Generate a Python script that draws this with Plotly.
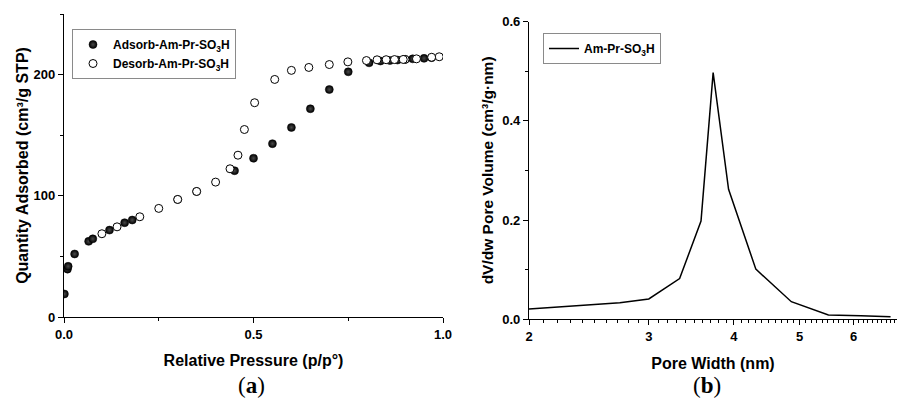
import math
import plotly.graph_objects as go

# (a) N2 sorption isotherm: relative pressure vs quantity adsorbed
ads_p = [0.001, 0.009, 0.011, 0.028, 0.065, 0.076, 0.12, 0.16, 0.18, 0.30, 0.35,
         0.45, 0.50, 0.55, 0.60, 0.65, 0.70, 0.75, 0.805, 0.835, 0.86, 0.88,
         0.90, 0.92, 0.95, 0.97]
ads_q = [19, 39.5, 41.8, 52, 62.4, 64.5, 71.7, 77.8, 80, 97, 103.5,
         120.7, 131, 143, 156.4, 171.8, 187.7, 202.3, 209.7, 211.2, 211.6, 212.0,
         212.5, 213.0, 213.4, 214.0]

des_p = [0.99, 0.97, 0.93, 0.90, 0.895, 0.872, 0.85, 0.826, 0.798, 0.749, 0.70,
         0.646, 0.60, 0.556, 0.503, 0.476, 0.459, 0.438, 0.40, 0.35, 0.30,
         0.25, 0.20, 0.14, 0.10]
des_q = [214.7, 214.3, 213.0, 212.6, 212.5, 212.4, 212.3, 212.2, 211.6, 210.5, 208.3,
         205.9, 203.5, 196.0, 176.8, 154.7, 133.5, 122.3, 111.3, 103.6, 97.0,
         89.6, 82.7, 74.4, 68.7]

# (b) pore size distribution
pore_w = [2.0, 2.72, 3.0, 3.33, 3.58, 3.73, 3.93, 4.31, 4.86, 5.51, 6.15, 6.8]
pore_dv = [0.021, 0.0335, 0.041, 0.082, 0.198, 0.497, 0.262, 0.101, 0.0355, 0.0087, 0.007, 0.005]

# axis tick labels
iso_x_ticks = [0.0, 0.5, 1.0]
iso_y_ticks = [0, 100, 200]
psd_x_ticks = [2, 3, 4, 5, 6]
psd_y_ticks = [0.0, 0.2, 0.4, 0.6]

W, H = 897, 407
SANS = "Liberation Sans, Arial, sans-serif"
SERIF = "Liberation Serif, Times New Roman, serif"


def px(x):
    return x / W


def py(y):
    return 1 - y / H


fig = go.Figure()

fig.add_trace(go.Scatter(
    x=ads_p, y=ads_q, mode="markers", name="Adsorb-Am-Pr-SO<sub>3</sub>H",
    marker=dict(symbol="circle", size=8, color="black",
                line=dict(color="black", width=0.5),
                gradient=dict(type="radial", color="#4a4a4a")),
    xaxis="x", yaxis="y", legend="legend",
))
fig.add_trace(go.Scatter(
    x=des_p, y=des_q, mode="markers", name="Desorb-Am-Pr-SO<sub>3</sub>H",
    marker=dict(symbol="circle", size=8, color="white",
                line=dict(color="black", width=1)),
    xaxis="x", yaxis="y", legend="legend",
))
fig.add_trace(go.Scatter(
    x=pore_w, y=pore_dv, mode="lines", name="Am-Pr-SO<sub>3</sub>H",
    line=dict(color="black", width=1.5),
    xaxis="x2", yaxis="y2", legend="legend2",
))

axis_common = dict(
    showline=True, linecolor="black", linewidth=1.3, mirror=False,
    ticks="outside", ticklen=5, tickwidth=1.2, tickcolor="black",
    showgrid=False, zeroline=False, automargin=False,
    tickfont=dict(family=SANS, size=13, color="black", weight="bold"),
)
title_font = dict(family=SANS, size=16, color="black", weight="bold")

# log-axis minor ticks every 0.1 nm
psd_minor = [round(2 + 0.1 * i, 1) for i in range(1, 50)]
psd_minor = [v for v in psd_minor if abs(v - round(v)) > 1e-6]

fig.update_layout(
    width=W, height=H,
    margin=dict(l=0, r=0, t=0, b=0, autoexpand=False),
    paper_bgcolor="white", plot_bgcolor="white",
    xaxis=dict(
        **axis_common, domain=[px(64), px(443)], range=[0, 1.0],
        tickvals=iso_x_ticks, ticktext=[f"{v:.1f}" for v in iso_x_ticks],
        minor=dict(tickvals=[0.25, 0.75], ticks="outside", ticklen=3, tickcolor="black"),
        title=dict(text="Relative Pressure (p/p°)", font=title_font, standoff=14),
        anchor="y",
    ),
    yaxis=dict(
        **axis_common, domain=[py(317), py(14)], range=[0, 250],
        tickvals=iso_y_ticks, ticktext=[str(v) for v in iso_y_ticks],
        minor=dict(tickvals=[50, 150, 250], ticks="outside", ticklen=3, tickcolor="black"),
        title=dict(text="Quantity Adsorbed (cm³/g STP)", font=title_font, standoff=0),
        anchor="x",
    ),
    xaxis2=dict(
        **axis_common, type="log", domain=[px(529), 1.0],
        range=[math.log10(2), math.log10(6.95)],
        tickvals=psd_x_ticks, ticktext=[str(v) for v in psd_x_ticks],
        minor=dict(tickmode="array", tickvals=psd_minor, ticks="outside",
                   ticklen=3, tickcolor="black"),
        title=dict(text="Pore Width (nm)", font=title_font, standoff=14),
        anchor="y2",
    ),
    yaxis2=dict(
        **axis_common, domain=[py(319.3), py(21.5)], range=[0, 0.6],
        tickvals=psd_y_ticks, ticktext=[f"{v:.1f}" for v in psd_y_ticks],
        minor=dict(tickvals=[0.1, 0.3, 0.5], ticks="outside", ticklen=3, tickcolor="black"),
        title=dict(text="dV/dw Pore Volume (cm³/g·nm)",
                   font=dict(family=SANS, size=15.5, color="black", weight="bold"),
                   standoff=4),
        anchor="x2",
    ),
    legend=dict(
        x=px(72), y=py(29), xanchor="left", yanchor="top",
        bgcolor="white", bordercolor="#8a8a8a", borderwidth=1,
        font=dict(family=SANS, size=12, color="black", weight="bold"),
        itemwidth=30, tracegroupgap=0,
    ),
    legend2=dict(
        x=px(543), y=py(33), xanchor="left", yanchor="top",
        bgcolor="white", bordercolor="#8a8a8a", borderwidth=1,
        font=dict(family=SANS, size=12, color="black", weight="bold"),
        itemwidth=30,
    ),
    showlegend=True,
)

# panel captions
for label, xc in (("a", 252), ("b", 707)):
    fig.add_annotation(
        x=px(xc), y=py(385), xref="paper", yref="paper",
        text=f"(<b>{label}</b>)", showarrow=False,
        font=dict(family=SERIF, size=23, color="black"),
        xanchor="center", yanchor="middle",
    )

fig.write_html("out.html")
